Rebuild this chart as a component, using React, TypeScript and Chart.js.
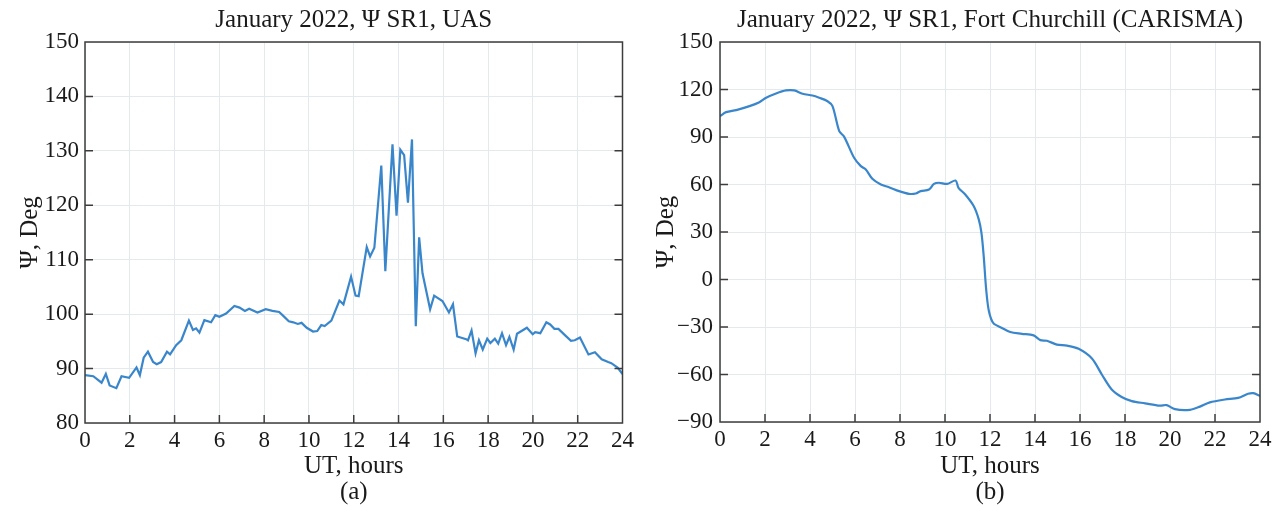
import React, { useEffect, useRef } from 'react';
import { Chart, registerables } from 'chart.js';

Chart.register(...registerables);

// ---------- data ----------
const hoursA = [
  0, 0.37, 0.74, 0.93, 1.1, 1.4, 1.63, 1.97, 2.3, 2.45, 2.62, 2.81, 3.04, 3.2, 3.4, 3.66, 3.8,
  4.07, 4.3, 4.64, 4.82, 4.96, 5.11, 5.33, 5.63, 5.82, 6.0, 6.3, 6.67, 6.9, 7.14, 7.33, 7.7,
  8.07, 8.37, 8.67, 8.9, 9.1, 9.3, 9.5, 9.67, 9.9, 10.18, 10.37, 10.55, 10.7, 11.0, 11.36,
  11.54, 11.88, 12.08, 12.22, 12.58, 12.73, 12.92, 13.23, 13.41, 13.73, 13.91, 14.08, 14.25,
  14.42, 14.6, 14.77, 14.92, 15.07, 15.41, 15.59, 15.96, 16.25, 16.43, 16.62, 17.02, 17.1,
  17.26, 17.44, 17.59, 17.76, 17.96, 18.1, 18.3, 18.45, 18.62, 18.8, 18.95, 19.14, 19.29,
  19.73, 19.99, 20.1, 20.33, 20.6, 20.77, 20.96, 21.14, 21.44, 21.7, 21.87, 22.1, 22.48,
  22.77, 23.07, 23.36, 23.5, 23.78, 24.0,
];
const psiA = [
  88.8, 88.6, 87.4, 89.0, 86.9, 86.4, 88.6, 88.3, 90.2, 88.8, 92.0, 93.1, 91.2, 90.8, 91.2, 93.1, 92.6,
  94.3, 95.2, 98.8, 97.1, 97.4, 96.6, 98.9, 98.5, 99.8, 99.5, 100.1, 101.5, 101.2, 100.6, 101.0, 100.3,
  100.9, 100.6, 100.4, 99.5, 98.7, 98.5, 98.2, 98.4, 97.5, 96.8, 96.9, 98.0, 97.8, 98.8, 102.5,
  101.8, 106.9, 103.4, 103.3, 112.3, 110.6, 112.2, 127.3, 107.9, 131.2, 118.1, 130.2, 129.2,
  120.5, 132.1, 97.8, 114.1, 107.5, 100.9, 103.4, 102.4, 100.3, 101.8, 95.9, 95.4, 95.2,
  97.0, 92.8, 95.2, 93.5, 95.5, 94.7, 95.5, 94.6, 96.5, 94.3, 95.8, 93.5, 96.4,
  97.5, 96.3, 96.7, 96.5, 98.5, 98.1, 97.3, 97.3, 96.1, 95.1, 95.2, 95.7, 92.6,
  93.0, 91.7, 91.2, 91.0, 90.2, 89.0,
];

const hoursB = [
  0, 0.27, 0.72, 1.31, 1.75, 2.05, 2.49, 2.93, 3.3, 3.67, 4.11, 4.41, 4.78, 5.0, 5.3, 5.52,
  5.96, 6.26, 6.48, 6.77, 7.15, 7.51, 7.96, 8.4, 8.7, 8.92, 9.29, 9.51, 9.73, 10.1, 10.47,
  10.6, 10.9, 11.28, 11.5, 11.62, 11.72, 11.83, 11.95, 12.15, 12.53, 12.9, 13.42, 13.94,
  14.24, 14.53, 14.97, 15.42, 15.94, 16.53, 16.97, 17.41, 17.85, 18.3, 18.89, 19.55, 19.85,
  20.22, 20.89, 21.33, 21.77, 22.44, 23.03, 23.47, 23.7, 24.0,
];
const psiB = [
  103.2, 105.7, 107.0, 109.5, 112.0, 114.8, 117.5, 119.4, 119.4, 117.3, 116.2, 114.8, 112.6, 109.5, 93.7, 90.1,
  76.9, 71.6, 69.5, 63.6, 60.0, 58.3, 55.8, 54.1, 54.3, 55.8, 56.8, 60.4, 61.1, 60.4, 62.5,
  57.9, 53.7, 46.3, 38.0, 29.5, 14.8, -6.3, -19.9, -27.6, -30.6, -33.2, -34.3, -35.3,
  -38.3, -38.7, -41.1, -41.8, -43.8, -49.9, -60.0, -69.5, -74.2, -76.8, -78.2, -79.7, -79.3,
  -81.9, -82.3, -80.3, -77.6, -75.8, -74.8, -72.2, -71.8, -73.5,
];

const titleA = 'January 2022, Ψ SR1, UAS';
const titleB = 'January 2022, Ψ SR1, Fort Churchill (CARISMA)';
const xTitle = 'UT, hours';
const yTitle = 'Ψ, Deg';

// ---------- styles ----------
const FONT = "'Liberation Serif', 'Times New Roman', serif";
const LINE_COLOR = '#3a86cb';
const GRID = '#e3e9ed';
const FRAME = '#3c3c3c';
const TEXT = '#1a1a1a';

const frameTicks = {
  id: 'frameTicks',
  afterDatasetsDraw(chart: any) {
    const { ctx, chartArea, scales } = chart;
    const { left, right, top, bottom } = chartArea;
    const x = scales.x;
    const y = scales.y;
    const L = 8;
    ctx.save();
    ctx.strokeStyle = FRAME;
    ctx.lineWidth = 1.5;
    ctx.beginPath();
    x.ticks.forEach((t: any) => {
      const px = x.getPixelForValue(t.value);
      if (px <= left + 1 || px >= right - 1) return;
      ctx.moveTo(px, bottom);
      ctx.lineTo(px, bottom - L);
    });
    y.ticks.forEach((t: any) => {
      const py = y.getPixelForValue(t.value);
      if (py <= top + 1 || py >= bottom - 1) return;
      ctx.moveTo(left, py);
      ctx.lineTo(left + L, py);
      ctx.moveTo(right, py);
      ctx.lineTo(right - L, py);
    });
    ctx.stroke();
    ctx.strokeRect(left, top, right - left, bottom - top);
    ctx.restore();
  },
};

type PanelProps = {
  hours: number[];
  psi: number[];
  title: string;
  letter: string;
  yMin: number;
  yMax: number;
  yStep: number;
  yWidth: number;
  xHeight: number;
  padRight: number;
  yTitlePad: number;
  yTickPad: number;
  tension: number;
};

function Panel(p: PanelProps) {
  const ref = useRef<HTMLCanvasElement>(null);
  useEffect(() => {
    const chart = new Chart(ref.current as HTMLCanvasElement, {
      type: 'line',
      data: {
        datasets: [
          {
            data: p.hours.map((h, i) => ({ x: h, y: p.psi[i] })),
            borderColor: LINE_COLOR,
            borderWidth: 2.2,
            pointRadius: 0,
            tension: p.tension,
            fill: false,
          },
        ],
      },
      options: {
        responsive: false,
        animation: false,
        layout: { padding: { left: 0, right: p.padRight, top: 0, bottom: 0 } },
        plugins: {
          legend: { display: false },
          tooltip: { enabled: false },
          title: {
            display: true,
            text: p.title,
            fullSize: false,
            color: TEXT,
            font: { family: FONT, size: 25, weight: 'normal', lineHeight: 1.2 },
            padding: { top: 5, bottom: 7 },
          },
        },
        scales: {
          x: {
            type: 'linear',
            min: 0,
            max: 24,
            afterFit: (s: any) => {
              s.height = p.xHeight;
            },
            ticks: {
              stepSize: 2,
              autoSkip: false,
              maxRotation: 0,
              padding: 4,
              color: TEXT,
              font: { family: FONT, size: 23 },
            },
            grid: { color: GRID, drawTicks: false, lineWidth: 1 },
            border: { display: false },
            title: {
              display: true,
              text: [xTitle, p.letter],
              color: TEXT,
              font: { family: FONT, size: 25, lineHeight: 26 / 25 },
              padding: { top: 0, bottom: 2 },
            },
          },
          y: {
            type: 'linear',
            min: p.yMin,
            max: p.yMax,
            afterFit: (s: any) => {
              s.width = p.yWidth;
            },
            ticks: {
              stepSize: p.yStep,
              autoSkip: false,
              padding: p.yTickPad,
              color: TEXT,
              font: { family: FONT, size: 23 },
              callback: (v: any) => (Number(v) < 0 ? '\u2212' + Math.abs(Number(v)) : String(v)),
            },
            grid: { color: GRID, drawTicks: false, lineWidth: 1 },
            border: { display: false },
            title: {
              display: true,
              text: yTitle,
              color: TEXT,
              font: { family: FONT, size: 25, lineHeight: 1.2 },
              padding: { top: p.yTitlePad, bottom: 0 },
            },
          },
        },
      } as any,
      plugins: [frameTicks],
    });
    return () => chart.destroy();
  }, []);
  return <canvas ref={ref} width={638} height={507} style={{ display: 'block' }} />;
}

export default function App() {
  return (
    <div style={{ position: 'absolute', left: 0, top: 0, width: 1276, height: 507, background: '#fff' }}>
      <div style={{ position: 'absolute', left: 0, top: 0 }}>
        <Panel
          hours={hoursA}
          psi={psiA}
          title={titleA}
          letter="(a)"
          yMin={80}
          yMax={150}
          yStep={10}
          yWidth={85}
          xHeight={84}
          padRight={13}
          yTitlePad={15}
          yTickPad={6}
          tension={0}
        />
      </div>
      <div style={{ position: 'absolute', left: 638, top: 0 }}>
        <Panel
          hours={hoursB}
          psi={psiB}
          title={titleB}
          letter="(b)"
          yMin={-90}
          yMax={150}
          yStep={30}
          yWidth={82}
          xHeight={85}
          padRight={16}
          yTitlePad={13}
          yTickPad={7}
          tension={0.3}
        />
      </div>
    </div>
  );
}
